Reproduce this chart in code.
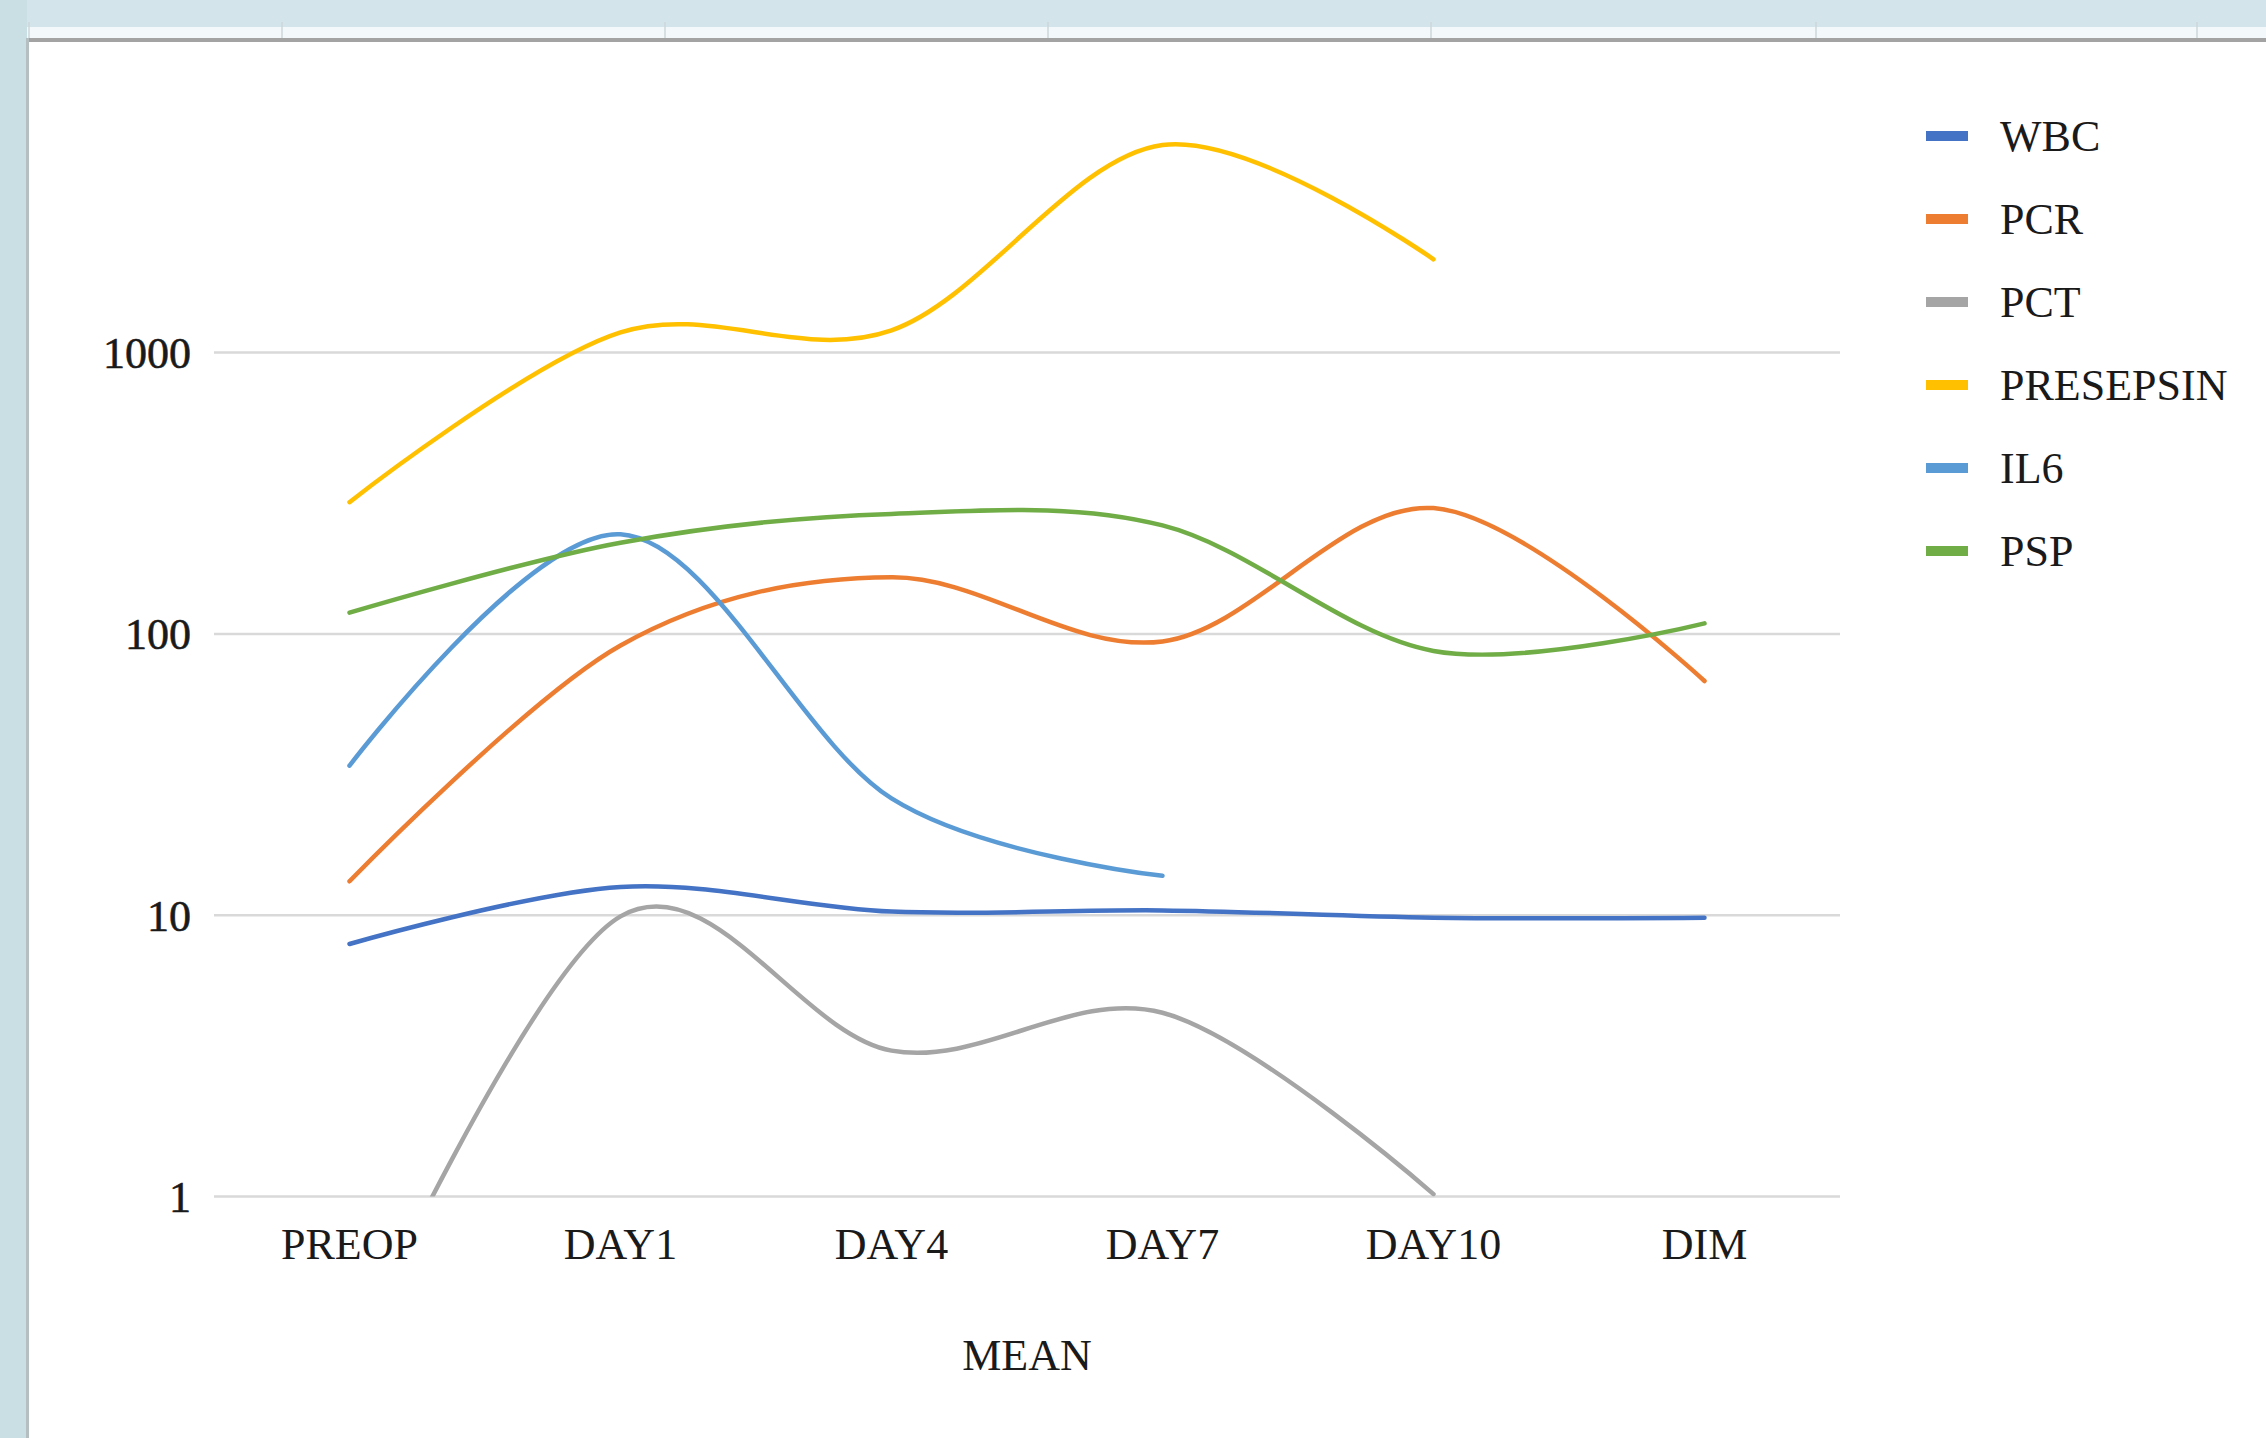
<!DOCTYPE html>
<html>
<head>
<meta charset="utf-8">
<script src="https://cdn.jsdelivr.net/npm/d3@7"></script>
<style>
  body { margin: 0; background: #fff; }
  svg { display: block; }
</style>
</head>
<body>
<div id="chart"></div>
<script>
const categories = ['PREOP', 'DAY1', 'DAY4', 'DAY7', 'DAY10', 'DIM']
const seriesNames = ['WBC', 'PCR', 'PCT', 'PRESEPSIN', 'IL6', 'PSP']
const wbc = [7.9, 12.6, 10.3, 10.4, 9.8, 9.8]
const pcr = [13.2, 91, 159, 94, 280, 68]
const pct = [0.25, 9.9, 3.3, 4.5, 1.02, null]
const presepsin = [294, 1180, 1200, 5470, 2146, null]
const il6 = [34, 226, 26, 13.8, null, null]
const psp = [119, 211, 267, 243, 87, 109]
const yTicks = [1, 10, 100, 1000]
const xTitle = 'MEAN'

const COLORS = ['#4472c4', '#ed7d31', '#a5a5a5', '#ffc000', '#5b9bd5', '#70ad47']
const FONT = '"Liberation Serif", "Times New Roman", serif'

const W = 2266
const H = 1438
const plot = { left: 214, right: 1840, top: 71, bottom: 1196.5 }

const series = [wbc, pcr, pct, presepsin, il6, psp].map((values, i) => ({
  name: seriesNames[i],
  color: COLORS[i],
  values: values.map((v, j) => ({ cat: categories[j], v })),
}))

const svg = d3
  .select('#chart')
  .append('svg')
  .attr('width', W)
  .attr('height', H)

// spreadsheet window chrome around the chart
svg.append('rect').attr('width', W).attr('height', 28).attr('fill', '#d3e5ea')
svg.append('rect').attr('width', 27).attr('height', H).attr('fill', '#c9dfe4')
svg.append('rect').attr('x', 27).attr('y', 27).attr('width', W).attr('height', 11).attr('fill', '#f3f9fa')
;[29, 282, 665, 1048, 1431, 1816, 2197].forEach(x => {
  svg.append('line')
    .attr('x1', x).attr('x2', x).attr('y1', 22).attr('y2', 38)
    .attr('stroke', '#cdd6d8').attr('stroke-width', 1.5)
})
svg.append('rect').attr('x', 27).attr('y', 38).attr('width', W).attr('height', 4).attr('fill', '#a3a3a3')
svg.append('rect').attr('x', 26).attr('y', 38).attr('width', 3).attr('height', H).attr('fill', '#b5bfc1')

const x = d3
  .scalePoint()
  .domain(categories)
  .range([plot.left, plot.right])
  .padding(0.5)

const y = d3
  .scaleLog()
  .domain([1, 1000])
  .range([plot.bottom, 352.6])

// gridlines
svg.append('g')
  .selectAll('line')
  .data(yTicks)
  .join('line')
  .attr('x1', plot.left)
  .attr('x2', plot.right)
  .attr('y1', d => y(d))
  .attr('y2', d => y(d))
  .attr('stroke', '#d9d9d9')
  .attr('stroke-width', 2.5)

// y labels
svg.append('g')
  .selectAll('text')
  .data(yTicks)
  .join('text')
  .attr('x', 191)
  .attr('y', d => y(d))
  .attr('dy', '0.35em')
  .attr('text-anchor', 'end')
  .attr('font-family', FONT)
  .attr('font-size', '44px')
  .attr('fill', '#1a1a1a')
  .attr('stroke', '#1a1a1a')
  .attr('stroke-width', 0.6)
  .text(d => d)

// x labels
svg.append('g')
  .selectAll('text')
  .data(categories)
  .join('text')
  .attr('x', d => x(d))
  .attr('y', 1259)
  .attr('text-anchor', 'middle')
  .attr('font-family', FONT)
  .attr('font-size', '44px')
  .attr('fill', '#1a1a1a')
  .text(d => d)

svg.append('text')
  .attr('x', (plot.left + plot.right) / 2)
  .attr('y', 1370)
  .attr('text-anchor', 'middle')
  .attr('font-family', FONT)
  .attr('font-size', '44px')
  .attr('fill', '#1a1a1a')
  .text(xTitle)

svg.append('clipPath')
  .attr('id', 'plot-clip')
  .append('rect')
  .attr('x', 0)
  .attr('y', 0)
  .attr('width', W)
  .attr('height', plot.bottom)

const line = d3
  .line()
  .defined(d => d.v != null)
  .x(d => x(d.cat))
  .y(d => y(d.v))
  .curve(d3.curveCardinal.tension(0))

svg.append('g')
  .attr('clip-path', 'url(#plot-clip)')
  .selectAll('path')
  .data(series)
  .join('path')
  .attr('d', d => line(d.values))
  .attr('fill', 'none')
  .attr('stroke', d => d.color)
  .attr('stroke-width', 4.5)
  .attr('stroke-linecap', 'round')

// legend
const legend = svg
  .append('g')
  .selectAll('g')
  .data(series)
  .join('g')
  .attr('transform', (d, i) => `translate(1926, ${136 + i * 83})`)

legend
  .append('rect')
  .attr('x', 0)
  .attr('y', -5)
  .attr('width', 42)
  .attr('height', 10)
  .attr('fill', d => d.color)

legend
  .append('text')
  .attr('x', 74)
  .attr('y', 0)
  .attr('dy', '0.35em')
  .attr('font-family', FONT)
  .attr('font-size', '44px')
  .attr('fill', '#1a1a1a')
  .text(d => d.name)
</script>
</body>
</html>
